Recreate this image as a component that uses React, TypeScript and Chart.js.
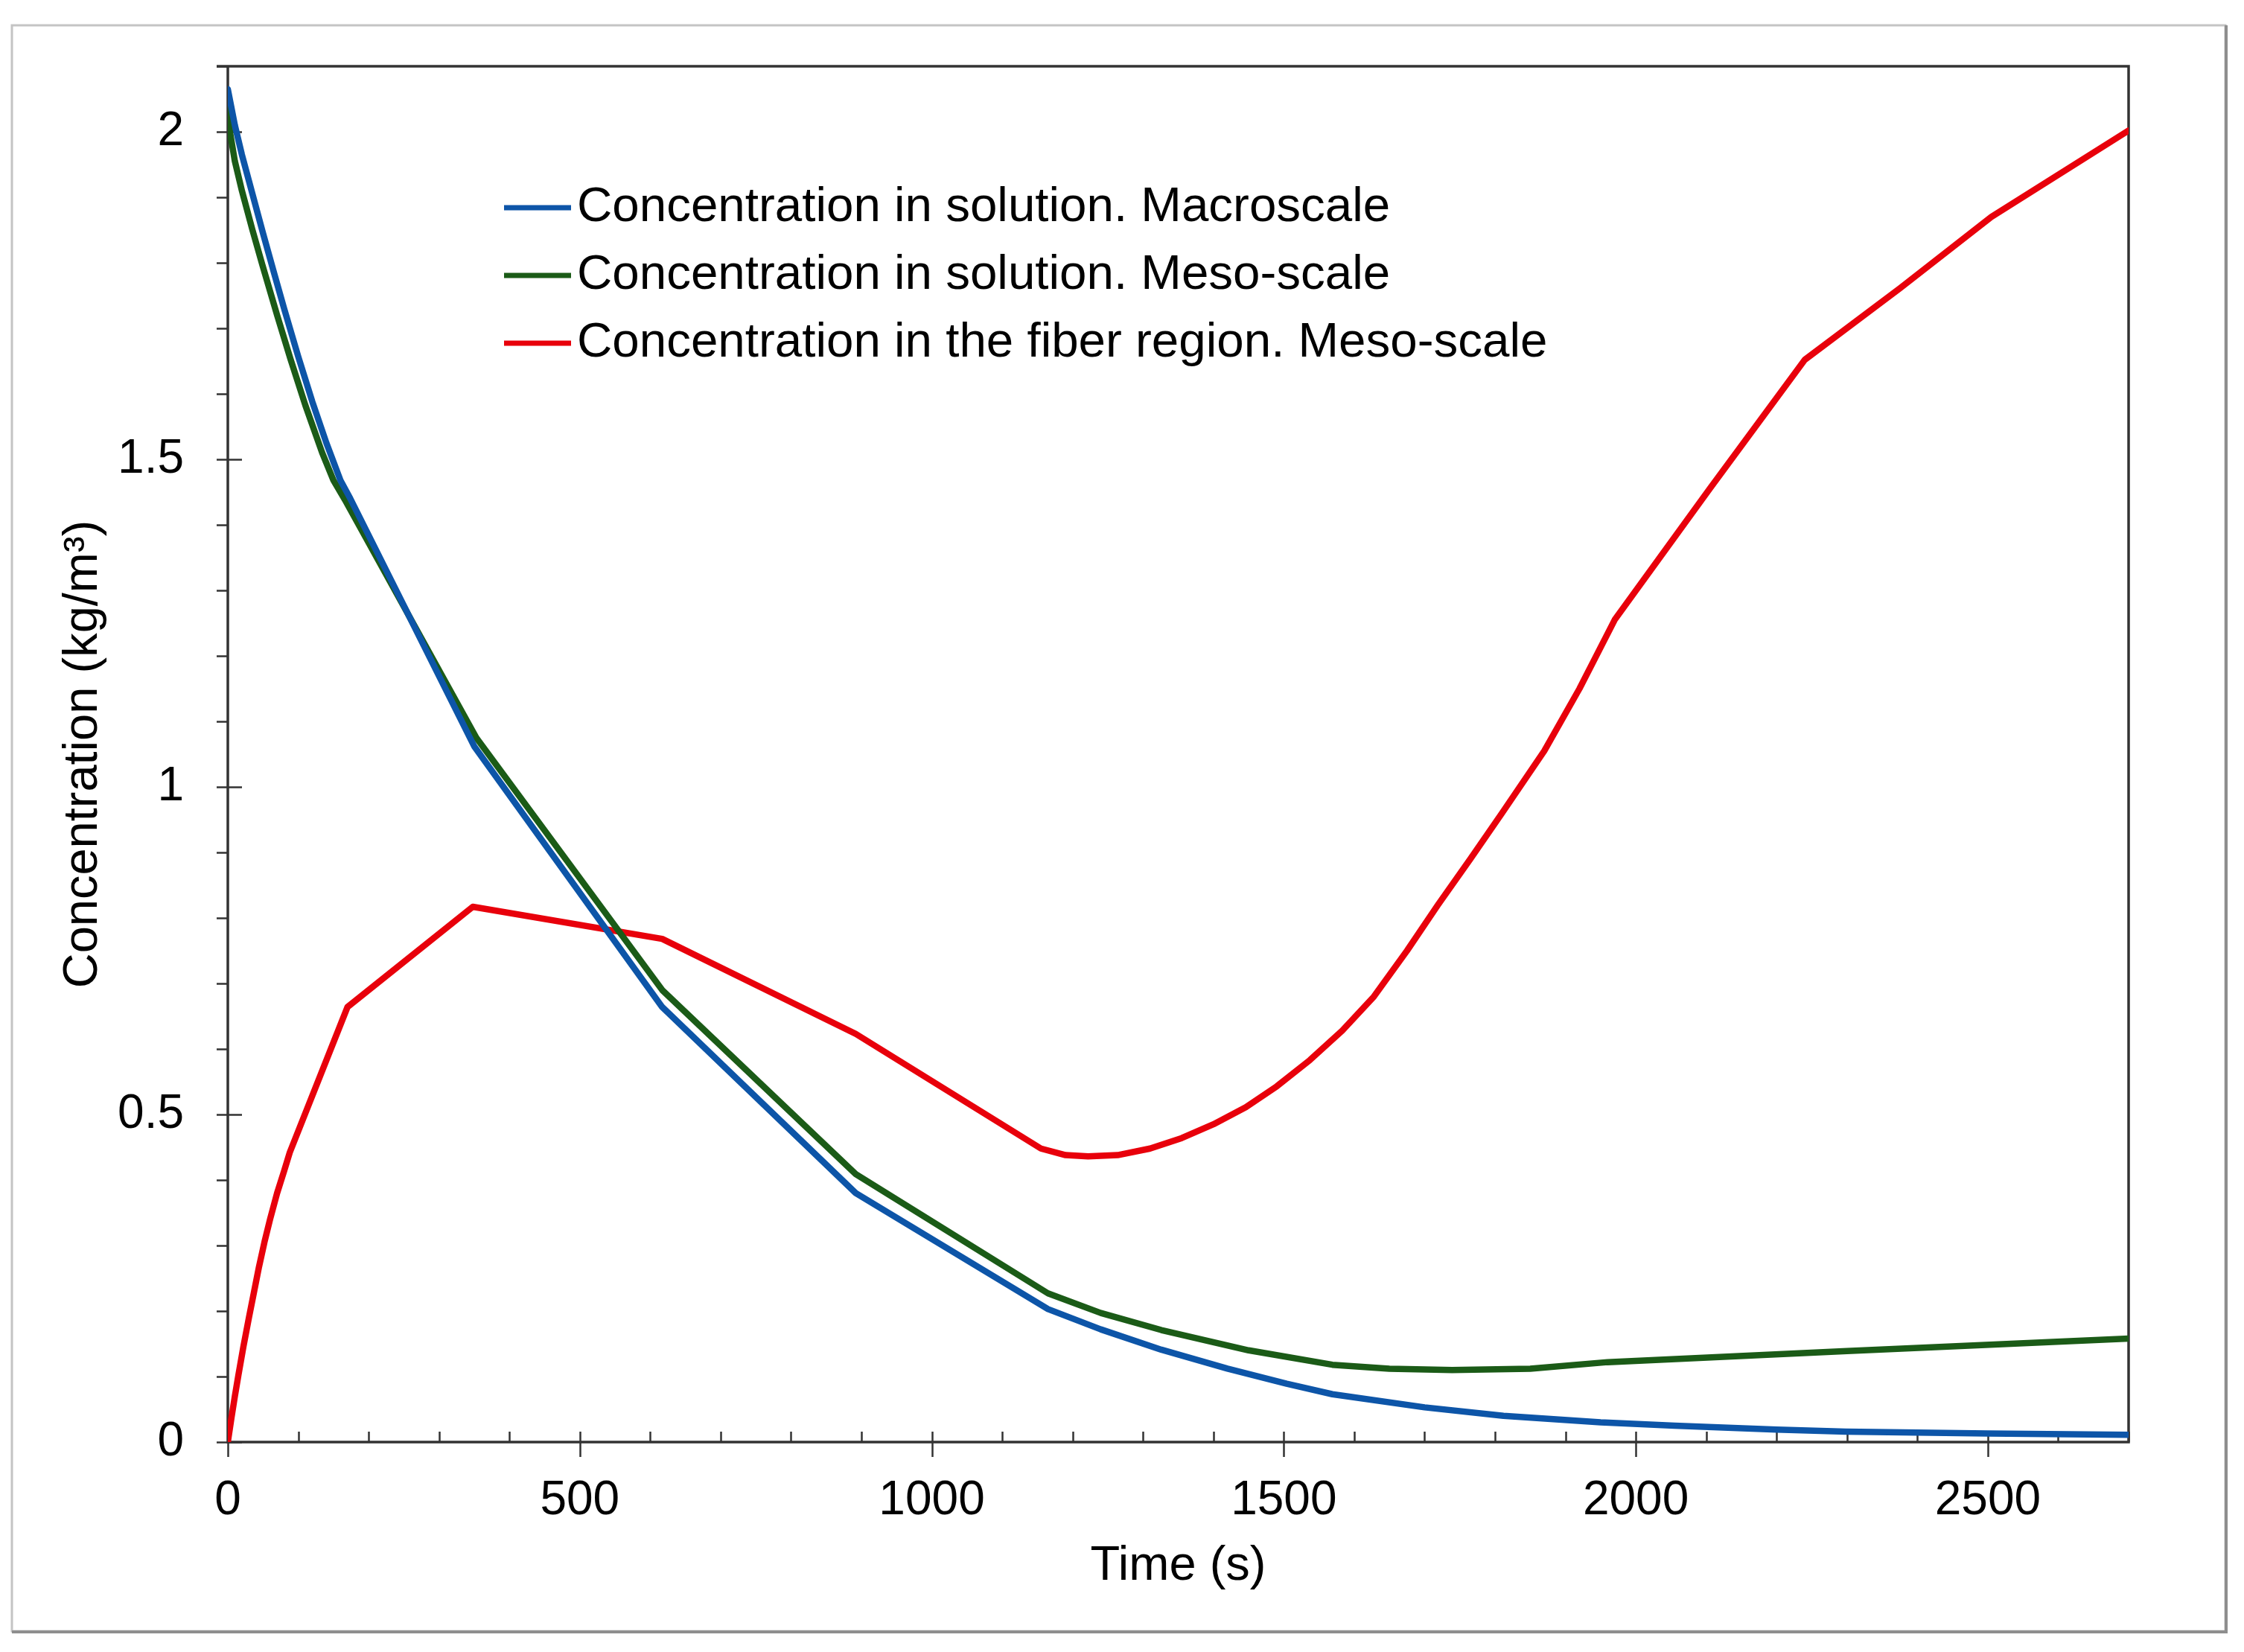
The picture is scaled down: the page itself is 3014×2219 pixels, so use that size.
import React, { useEffect, useRef } from "react";
import { Chart, registerables } from "chart.js";

Chart.register(...registerables);

// ---- Data ----
const macroTime = [0, 10, 20, 35, 50, 65, 80, 100, 120, 140, 160, 174, 350, 617, 892, 1165, 1240, 1326, 1420, 1504, 1569, 1700, 1812, 1950, 2055, 2200, 2298, 2500, 2700];
const macroConc = [2.065, 2.01, 1.965, 1.905, 1.845, 1.787, 1.73, 1.657, 1.588, 1.525, 1.468, 1.44, 1.062, 0.664, 0.38, 0.203, 0.172, 0.141, 0.112, 0.089, 0.073, 0.053, 0.04, 0.03, 0.025, 0.019, 0.016, 0.013, 0.011];

const mesoTime = [0, 3, 10, 20, 35, 49, 70, 89, 110, 134, 150, 168, 353, 617, 892, 1165, 1240, 1326, 1450, 1569, 1650, 1739, 1850, 1960, 2300, 2700];
const mesoConc = [2.06, 2.0, 1.955, 1.91, 1.85, 1.797, 1.72, 1.653, 1.583, 1.51, 1.468, 1.435, 1.075, 0.69, 0.409, 0.227, 0.197, 0.171, 0.14, 0.118, 0.112, 0.11, 0.112, 0.122, 0.139, 0.158];

const fiberTime = [0, 5, 10, 15, 22, 30, 37, 44, 52, 60, 70, 80, 88, 170, 348, 617, 892, 1155, 1190, 1222, 1264, 1310, 1355, 1400, 1446, 1490, 1537, 1583, 1628, 1675, 1719, 1765, 1810, 1870, 1920, 1970, 2105, 2240, 2375, 2505, 2700];
const fiberConc = [0, 0.036, 0.07, 0.102, 0.145, 0.19, 0.228, 0.266, 0.305, 0.34, 0.38, 0.414, 0.442, 0.664, 0.817, 0.768, 0.623, 0.448, 0.438, 0.436, 0.438, 0.448, 0.464, 0.485, 0.511, 0.543, 0.583, 0.628, 0.68, 0.75, 0.82, 0.89, 0.96, 1.055, 1.15, 1.255, 1.455, 1.652, 1.761, 1.87, 2.002];

const seriesLabels = [
  "Concentration in solution. Macroscale",
  "Concentration in solution. Meso-scale",
  "Concentration in the fiber region. Meso-scale",
];
const seriesColors = ["#0D55A8", "#1B5B17", "#E8000B"];

const xTickValues = [0, 500, 1000, 1500, 2000, 2500];
const yTickValues = [0, 0.5, 1, 1.5, 2];
const xMin = 0, xMax = 2700, xMinorStep = 100;
const yMin = 0, yMax = 2.1, yMinorStep = 0.1;

const xTitle = "Time (s)";
const yTitle = "Concentration (kg/m³)";

const FONT = "'Liberation Sans', Arial, Helvetica, sans-serif";

function toPoints(t: number[], v: number[]) {
  return t.map((x, i) => ({ x, y: v[i] }));
}

const framePlugin = {
  id: "frameAndTicks",
  beforeDraw(chart: any) {
    const ctx = chart.ctx;
    ctx.save();
    ctx.fillStyle = "#ffffff";
    ctx.fillRect(0, 0, chart.width, chart.height);
    ctx.strokeStyle = "#c4c4c4";
    ctx.lineWidth = 3;
    ctx.strokeRect(16, 34, 2973, 2157);
    ctx.strokeStyle = "#8e8e8e";
    ctx.lineWidth = 4;
    ctx.beginPath();
    ctx.moveTo(16, 2192);
    ctx.lineTo(2990, 2192);
    ctx.lineTo(2990, 34);
    ctx.stroke();
    ctx.restore();
  },
  beforeDatasetsDraw(chart: any) {
    const { ctx, chartArea } = chart;
    const { left, right, top, bottom } = chartArea;
    const xs = chart.scales.x;
    const ys = chart.scales.y;
    ctx.save();
    ctx.strokeStyle = "#333333";
    ctx.lineCap = "butt";
    ctx.lineWidth = 2.5;
    ctx.beginPath();
    for (let v = xMin; v <= xMax + 1e-6; v += xMinorStep) {
      const px = Math.round(xs.getPixelForValue(v)) + 0.5;
      const major = xTickValues.includes(v);
      ctx.moveTo(px, bottom - 14);
      ctx.lineTo(px, major ? bottom + 20 : bottom);
    }
    const nY = Math.round((yMax - yMin) / yMinorStep);
    for (let i = 0; i <= nY; i++) {
      const v = yMin + i * yMinorStep;
      const py = Math.round(ys.getPixelForValue(v)) + 0.5;
      const major = yTickValues.some((t) => Math.abs(t - v) < 1e-6);
      ctx.moveTo(left - 15, py);
      ctx.lineTo(major ? left + 19 : left, py);
    }
    ctx.stroke();
    ctx.lineWidth = 3.5;
    ctx.beginPath();
    ctx.moveTo(left, top);
    ctx.lineTo(left, bottom);
    ctx.lineTo(right, bottom);
    ctx.lineTo(right, top);
    ctx.lineTo(left - 15, top);
    ctx.stroke();
    ctx.restore();
  },
  afterDraw(chart: any) {
    const ctx = chart.ctx;
    ctx.save();
    const lineX0 = 677, lineX1 = 767, textX = 775, rowY0 = 279, rowGap = 91;
    ctx.font = `65.5px ${FONT}`;
    ctx.textBaseline = "middle";
    ctx.textAlign = "left";
    chart.data.datasets.forEach((ds: any, i: number) => {
      const yy = rowY0 + i * rowGap;
      ctx.strokeStyle = ds.borderColor;
      ctx.lineWidth = 7;
      ctx.beginPath();
      ctx.moveTo(lineX0, yy);
      ctx.lineTo(lineX1, yy);
      ctx.stroke();
      ctx.fillStyle = "#000000";
      ctx.fillText(ds.label, textX, yy);
    });
    ctx.restore();
  },
};

export default function App() {
  const canvasRef = useRef<HTMLCanvasElement | null>(null);

  useEffect(() => {
    document.body.style.margin = "0";
    document.body.style.overflow = "hidden";
    const canvas = canvasRef.current;
    if (!canvas) return;
    const datasets = [
      { t: macroTime, v: macroConc },
      { t: mesoTime, v: mesoConc },
      { t: fiberTime, v: fiberConc },
    ].map((s, i) => ({
      label: seriesLabels[i],
      data: toPoints(s.t, s.v),
      borderColor: seriesColors[i],
      backgroundColor: seriesColors[i],
      borderWidth: 8.5,
      pointRadius: 0,
      tension: 0,
      fill: false,
      showLine: true,
      borderJoinStyle: "round" as const,
      borderCapStyle: "round" as const,
    }));

    const tickFont = { family: FONT, size: 64 };

    const chart = new Chart(canvas, {
      type: "scatter",
      data: { datasets },
      options: {
        animation: false,
        responsive: false,
        devicePixelRatio: 1,
        layout: { padding: { left: 0, right: 155, top: 89, bottom: 0 } },
        plugins: { legend: { display: false }, tooltip: { enabled: false } },
        scales: {
          x: {
            type: "linear",
            min: xMin,
            max: xMax,
            afterFit: (s: any) => { s.height = 282; s.paddingLeft = 0; s.paddingRight = 0; },
            afterBuildTicks: (s: any) => { s.ticks = xTickValues.map((value) => ({ value })); },
            grid: { display: false, drawTicks: false },
            border: { display: false },
            ticks: {
              includeBounds: false,
              padding: 41,
              color: "#000",
              font: tickFont,
              maxRotation: 0,
              autoSkip: false,
              callback: (v: any) => String(v),
            },
            title: {
              display: true,
              text: xTitle,
              color: "#000",
              font: { family: FONT, size: 65 },
              padding: { top: 0, bottom: 76 },
            },
          },
          y: {
            type: "linear",
            min: yMin,
            max: yMax,
            afterFit: (s: any) => { s.width = 306; s.paddingTop = 0; s.paddingBottom = 0; },
            afterBuildTicks: (s: any) => { s.ticks = yTickValues.map((value) => ({ value })); },
            grid: { display: false, drawTicks: false },
            border: { display: false },
            ticks: {
              includeBounds: false,
              padding: 59,
              color: "#000",
              font: tickFont,
              autoSkip: false,
              callback: (v: any) => String(v),
            },
            title: {
              display: true,
              text: yTitle,
              color: "#000",
              font: { family: FONT, size: 65 },
              padding: { top: 73, bottom: 0 },
            },
          },
        },
      },
      plugins: [framePlugin],
    });
    return () => chart.destroy();
  }, []);

  return (
    <div style={{ width: 3014, height: 2219 }}>
      <canvas ref={canvasRef} width={3014} height={2219} style={{ display: "block", width: 3014, height: 2219 }} />
    </div>
  );
}
